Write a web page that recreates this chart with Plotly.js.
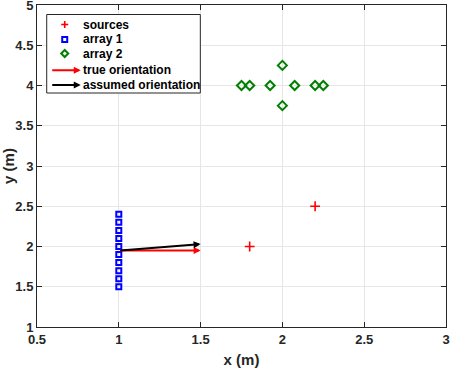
<!DOCTYPE html>
<html>
<head>
<meta charset="utf-8">
<script src="https://cdn.plot.ly/plotly-3.0.1.min.js"></script>
<style>
  html, body { margin: 0; padding: 0; background: #fff; }
  #plot { width: 450px; height: 368px; }
</style>
</head>
<body>
<div id="plot"></div>
<script>
// sources
const sourceX = [1.8, 2.2];
const sourceY = [2.0, 2.5];

// array 1 (vertical line of sensors)
const array1X = [1, 1, 1, 1, 1, 1, 1, 1, 1, 1];
const array1Y = [1.5, 1.6, 1.7, 1.8, 1.9, 2.0, 2.1, 2.2, 2.3, 2.4];

// array 2 (cross shaped)
const array2X = [1.75, 1.8, 1.925, 2.075, 2.2, 2.25, 2.0, 2.0];
const array2Y = [4, 4, 4, 4, 4, 4, 4.25, 3.75];

// orientation arrows of array 1
const arrowStart = [1, 1.95];
const trueEnd = [1.5, 1.95];
const assumedEnd = [1.5, 2.03];

const legendLabels = ['sources', 'array 1', 'array 2', 'true orientation', 'assumed orientation'];

const axisColor = '#262626';
const font = { family: 'Liberation Sans, Arial, sans-serif', size: 13, color: axisColor, weight: 'bold' };
const titleFont = Object.assign({}, font, { size: 15 });

// plot area in pixels, used to place the hand drawn legend
const L = 37.3, T = 5, W = 408.7, H = 322;
const px = x => (x - L) / W;
const py = y => 1 - (y - T) / H;

const traces = [
  {
    x: sourceX, y: sourceY, mode: 'markers', name: legendLabels[0],
    marker: { symbol: 'cross-thin-open', size: 7, color: '#ff0000', line: { color: '#ff0000', width: 1.6 } }
  },
  {
    x: array1X, y: array1Y, mode: 'markers', name: legendLabels[1],
    marker: { symbol: 'square-open', size: 5, color: '#0000ff', line: { color: '#0000ff', width: 2 } }
  },
  {
    x: array2X, y: array2Y, mode: 'markers', name: legendLabels[2],
    marker: { symbol: 'diamond-open', size: 7, color: '#008000', line: { color: '#008000', width: 2 } }
  }
];

function orientationArrow(end, color) {
  return {
    x: end[0], y: end[1], xref: 'x', yref: 'y',
    ax: arrowStart[0], ay: arrowStart[1], axref: 'x', ayref: 'y',
    showarrow: true, arrowhead: 2, arrowsize: 0.7, arrowwidth: 2,
    arrowcolor: color, text: ''
  };
}

// legend rows (pixel y of each row)
const rowY = [24.5, 39.5, 53.5, 70.3, 85];
const symX = 65;

const annotations = [
  orientationArrow(trueEnd, '#ff0000'),
  orientationArrow(assumedEnd, '#000000')
];

legendLabels.forEach((lab, i) => {
  annotations.push({
    x: px(81), y: py(rowY[i]), xref: 'paper', yref: 'paper',
    xanchor: 'left', yanchor: 'middle', showarrow: false,
    text: lab, font: { family: font.family, size: 12, color: '#000', weight: 'bold' }
  });
});
// legend arrows
[['#ff0000', rowY[3]], ['#000000', rowY[4]]].forEach(([c, y]) => {
  annotations.push({
    x: px(81), y: py(y), xref: 'paper', yref: 'paper',
    ax: -30, ay: 0, showarrow: true, arrowhead: 2, arrowsize: 0.7,
    arrowwidth: 2, arrowcolor: c, text: ''
  });
});

const shapes = [
  // legend box
  { type: 'rect', xref: 'paper', yref: 'paper', x0: px(47), x1: px(200.5), y0: py(14.5), y1: py(93),
    line: { color: '#262626', width: 1 }, fillcolor: '#ffffff', layer: 'above' },
  // sources symbol
  { type: 'line', xref: 'paper', yref: 'paper', x0: px(symX - 3.5), x1: px(symX + 3.5), y0: py(rowY[0]), y1: py(rowY[0]),
    line: { color: '#ff0000', width: 1.6 }, layer: 'above' },
  { type: 'line', xref: 'paper', yref: 'paper', x0: px(symX), x1: px(symX), y0: py(rowY[0] - 3.5), y1: py(rowY[0] + 3.5),
    line: { color: '#ff0000', width: 1.6 }, layer: 'above' },
  // array 1 symbol
  { type: 'rect', xref: 'paper', yref: 'paper', x0: px(symX - 2.5), x1: px(symX + 2.5), y0: py(rowY[1] - 2.5), y1: py(rowY[1] + 2.5),
    line: { color: '#0000ff', width: 2 }, layer: 'above' },
  // array 2 symbol
  { type: 'path', xref: 'paper', yref: 'paper',
    path: 'M ' + px(symX - 3.5) + ' ' + py(rowY[2]) + ' L ' + px(symX) + ' ' + py(rowY[2] - 3.5) +
          ' L ' + px(symX + 3.5) + ' ' + py(rowY[2]) + ' L ' + px(symX) + ' ' + py(rowY[2] + 3.5) + ' Z',
    line: { color: '#008000', width: 2 }, layer: 'above' }
];

const axisCommon = {
  showline: true, linecolor: axisColor, linewidth: 1, mirror: 'ticks',
  ticks: 'inside', ticklen: 5, tickcolor: axisColor, tickwidth: 1,
  showgrid: true, gridcolor: '#e6e6e6', gridwidth: 1,
  zeroline: false, tickfont: font, ticklabeloverflow: 'allow'
};

const layout = {
  width: 450, height: 368,
  margin: { l: L, r: 450 - L - W, t: T, b: 368 - T - H },
  paper_bgcolor: '#ffffff', plot_bgcolor: '#ffffff',
  showlegend: false,
  xaxis: Object.assign({}, axisCommon, {
    range: [0.5, 3], tickvals: [0.5, 1, 1.5, 2, 2.5, 3], ticktext: ['0.5', '1', '1.5', '2', '2.5', '3'],
    title: { text: 'x (m)', font: titleFont, standoff: 8 }
  }),
  yaxis: Object.assign({}, axisCommon, {
    range: [1, 5], tickvals: [1, 1.5, 2, 2.5, 3, 3.5, 4, 4.5, 5], ticktext: ['1', '1.5', '2', '2.5', '3', '3.5', '4', '4.5', '5'],
    title: { text: 'y (m)', font: titleFont, standoff: 4 }
  }),
  annotations: annotations,
  shapes: shapes
};

Plotly.newPlot('plot', traces, layout, { displayModeBar: false, staticPlot: true });
</script>
</body>
</html>
